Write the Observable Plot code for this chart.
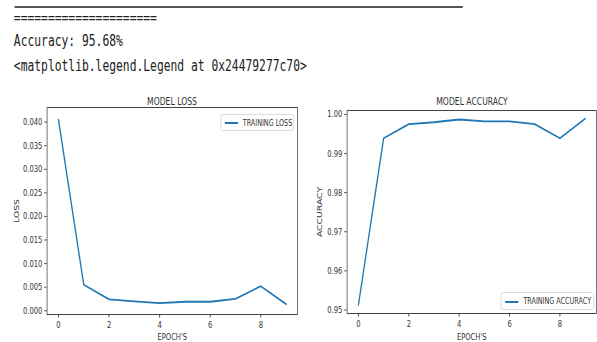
<!DOCTYPE html>
<html>
<head>
<meta charset="utf-8">
<script src="https://cdn.jsdelivr.net/npm/d3@7"></script>
<script src="https://cdn.jsdelivr.net/npm/@observablehq/plot@0.6"></script>
<style>
  html, body { margin: 0; padding: 0; background: #fff; width: 597px; height: 342px; overflow: hidden; position: relative; }
  #wrap { position: absolute; left: 0; top: 0; width: 818px; height: 342px; transform: scaleX(0.73); transform-origin: 0 0; }
  .mono { position: absolute; left: 19px; font-family: "DejaVu Sans Mono", "Liberation Mono", monospace; font-size: 15.5px; line-height: 15.5px; color: #222; white-space: pre; }
  .rule { position: absolute; left: 20px; top: 6px; width: 614px; height: 2px; background: #555; }
  .panel { position: absolute; top: 90px; }
  .title { position: absolute; font-family: "DejaVu Sans", sans-serif; font-size: 10.5px; color: #333; transform: translate(-50%, -50%); white-space: nowrap; }
  .legend { position: absolute; box-sizing: border-box; border: 1px solid #d6d6d6; border-radius: 3px; background: #fff; font-family: "DejaVu Sans", sans-serif; font-size: 8.8px; color: #333; white-space: nowrap; }
  .legend .sw { position: absolute; left: 5px; width: 18px; height: 2px; background: #1f77b4; }
  .legend .tx { position: absolute; left: 30px; line-height: 1; }
</style>
</head>
<body>
<div id="wrap">
  <div class="rule"></div>
  <div class="mono" style="top:11px">=====================</div>
  <div class="mono" style="top:34px">Accuracy: 95.68%</div>
  <div class="mono" style="top:58.5px">&lt;matplotlib.legend.Legend at 0x24479277c70&gt;</div>
  <div id="left" class="panel" style="left:0px"></div>
  <div id="right" class="panel" style="left:411px"></div>
  <div class="title" style="left:235.6px; top:101px">MODEL LOSS</div>
  <div class="title" style="left:646.6px; top:101px">MODEL ACCURACY</div>
  <div class="legend" style="left:301.5px; top:114px; width:101px; height:17px"><span class="sw" style="top:7px"></span><span class="tx" style="top:3.5px">TRAINING LOSS</span></div>
  <div class="legend" style="left:686px; top:292px; width:128px; height:18px"><span class="sw" style="top:7.5px"></span><span class="tx" style="top:4px">TRAINING ACCURACY</span></div>
</div>
<script>
const epochs = [0, 1, 2, 3, 4, 5, 6, 7, 8, 9];
const trainingLoss = [0.0405, 0.0055, 0.0024, 0.0020, 0.0016, 0.0019, 0.0019, 0.0025, 0.0052, 0.0014];
const trainingAccuracy = [0.9513, 0.9939, 0.9975, 0.9980, 0.9987, 0.9982, 0.9982, 0.9975, 0.9939, 0.9989];
const xTicks = [0, 2, 4, 6, 8];
const lossTicks = [0, 0.005, 0.010, 0.015, 0.020, 0.025, 0.030, 0.035, 0.040];
const accTicks = [0.95, 0.96, 0.97, 0.98, 0.99, 1.00];

const font = '"DejaVu Sans", sans-serif';
const lineColor = "#1f77b4";

function panel({values, yDomain, yTicks, yFormat, yLabel, yLabelOffset, width, mt, mb, ml, mr}) {
  const data = epochs.map((e, i) => ({epoch: e, value: values[i]}));
  return Plot.plot({
    width, height: 252,
    marginTop: mt, marginBottom: mb, marginLeft: ml, marginRight: mr,
    style: {fontFamily: font, fontSize: "9.3px", color: "#333", background: "transparent", overflow: "visible"},
    x: {domain: [-0.45, 9.45]},
    y: {domain: yDomain},
    marks: [
      Plot.axisX({ticks: xTicks, tickSize: 3.5, tickPadding: 3, tickFormat: d3.format("d"), label: "EPOCH'S", labelAnchor: "center", labelArrow: "none", labelOffset: mb - 3, fontSize: 9.3}),
      Plot.axisY({ticks: yTicks, tickSize: 3.5, tickPadding: 3, tickFormat: d3.format(yFormat), label: yLabel, labelAnchor: "center", labelArrow: "none", labelOffset: yLabelOffset, fontSize: 9.3}),
      Plot.lineY(data, {x: "epoch", y: "value", stroke: lineColor, strokeWidth: 1.8}),
      Plot.frame({stroke: "#444", strokeWidth: 1})
    ]
  });
}

document.getElementById("left").append(panel({
  values: trainingLoss, yDomain: [-0.0008, 0.0431], yTicks: lossTicks, yFormat: ".3f", yLabel: "LOSS", yLabelOffset: 45,
  width: 411, mt: 17, mb: 28, ml: 64, mr: 4
}));
document.getElementById("right").append(panel({
  values: trainingAccuracy, yDomain: [0.9491, 1.001], yTicks: accTicks, yFormat: ".2f", yLabel: "ACCURACY", yLabelOffset: 40.5,
  width: 407, mt: 20, mb: 29, ml: 64, mr: 1.5
}));
</script>
</body>
</html>
